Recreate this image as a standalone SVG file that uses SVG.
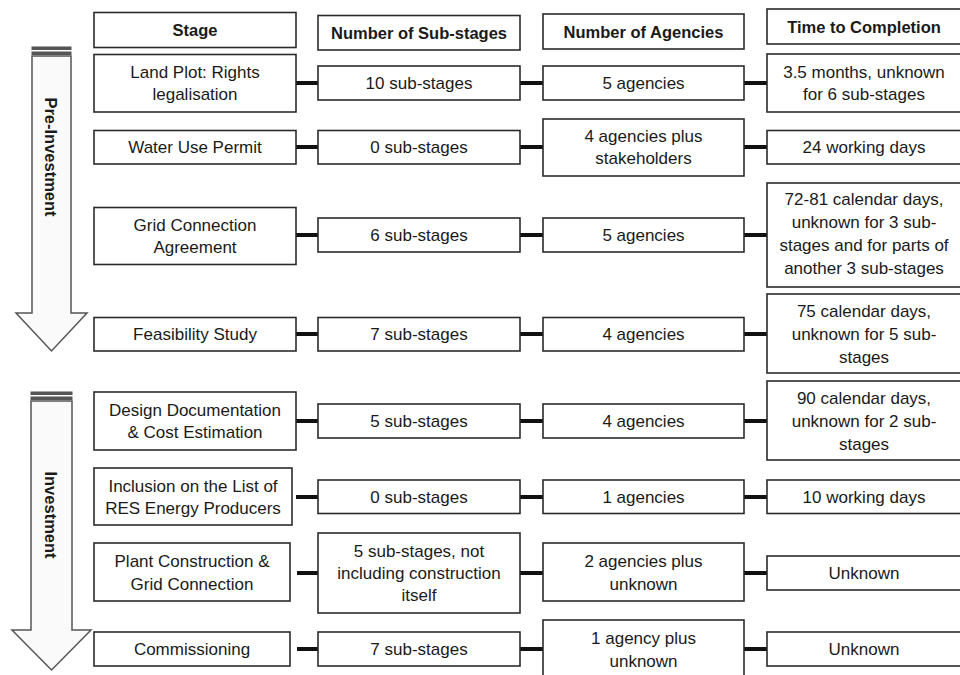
<svg xmlns="http://www.w3.org/2000/svg" width="960" height="675" viewBox="0 0 960 675">
<style>
.bx{fill:#fff;stroke:#2b2b2b;stroke-width:1.6}
.t{font-family:"Liberation Sans",Arial,sans-serif;font-size:17px;fill:#1a1a1a;text-anchor:middle;dominant-baseline:central}
.h{font-family:"Liberation Sans",Arial,sans-serif;font-size:16.5px;font-weight:bold;fill:#1a1a1a;text-anchor:middle;dominant-baseline:central}
.ar{fill:#fafafa;stroke:#555;stroke-width:1.5;stroke-linejoin:miter}
.st{fill:#555;stroke:#555;stroke-width:1}
.c line{stroke:#111;stroke-width:4}
</style>
<rect width="960" height="675" fill="#fff"/>

<g id="arrow-pre">
<rect class="st" x="32" y="47" width="39" height="2.5"/>
<rect class="st" x="32" y="52" width="39" height="2.5"/>
<path class="ar" d="M32,56 L71,56 L71,313 L87,313 L51.5,351 L16,313 L32,313 Z"/>
<text class="h" transform="translate(51,157) rotate(90)">Pre-Investment</text>
</g>
<g id="arrow-inv">
<rect class="st" x="31" y="392" width="41" height="2.5"/>
<rect class="st" x="31" y="397" width="41" height="2.5"/>
<path class="ar" d="M31,401 L72,401 L72,630 L91,630 L51.5,670 L12,630 L31,630 Z"/>
<text class="h" transform="translate(51,515) rotate(90)">Investment</text>
</g>

<g class="c" id="connectors">
<line x1="296" y1="83" x2="318" y2="83"/><line x1="520" y1="83" x2="543" y2="83"/><line x1="744" y1="83" x2="767" y2="83"/>
<line x1="296" y1="147" x2="318" y2="147"/><line x1="520" y1="147" x2="543" y2="147"/><line x1="744" y1="147" x2="767" y2="147"/>
<line x1="296" y1="235" x2="318" y2="235"/><line x1="520" y1="235" x2="543" y2="235"/><line x1="744" y1="235" x2="767" y2="235"/>
<line x1="296" y1="334" x2="318" y2="334"/><line x1="520" y1="334" x2="543" y2="334"/><line x1="744" y1="334" x2="767" y2="334"/>
<line x1="296" y1="421" x2="318" y2="421"/><line x1="520" y1="421" x2="543" y2="421"/><line x1="744" y1="421" x2="767" y2="421"/>
<line x1="296" y1="497" x2="318" y2="497"/><line x1="520" y1="497" x2="543" y2="497"/><line x1="744" y1="497" x2="767" y2="497"/>
<line x1="297" y1="573" x2="318" y2="573"/><line x1="520" y1="573" x2="543" y2="573"/><line x1="744" y1="573" x2="767" y2="573"/>
<line x1="297" y1="649" x2="318" y2="649"/><line x1="520" y1="649" x2="543" y2="649"/><line x1="744" y1="649" x2="767" y2="649"/>
</g>

<g id="h-stage"><rect class="bx" x="94" y="12.5" width="202" height="35"/><text class="h" x="195" y="30">Stage</text></g>
<g id="h-sub"><rect class="bx" x="318" y="15.5" width="202" height="34.5"/><text class="h" x="419" y="32.5">Number of Sub-stages</text></g>
<g id="h-ag"><rect class="bx" x="543" y="14" width="201" height="35"/><text class="h" x="643.5" y="31.5">Number of Agencies</text></g>
<g id="h-time"><rect class="bx" x="767" y="9" width="200" height="35"/><text class="h" x="864" y="26.5">Time to Completion</text></g>

<g id="r1-stage"><rect class="bx" x="94" y="54.5" width="202" height="57.5"/><text class="t" x="195" y="72">Land Plot: Rights</text><text class="t" x="195" y="94">legalisation</text></g>
<g id="r1-sub"><rect class="bx" x="318" y="66" width="202" height="34"/><text class="t" x="419" y="83">10 sub-stages</text></g>
<g id="r1-ag"><rect class="bx" x="543" y="66" width="201" height="34"/><text class="t" x="643.5" y="83">5 agencies</text></g>
<g id="r1-time"><rect class="bx" x="767" y="54" width="200" height="58"/><text class="t" x="864" y="72">3.5 months, unknown</text><text class="t" x="864" y="94">for 6 sub-stages</text></g>

<g id="r2-stage"><rect class="bx" x="94" y="130.5" width="202" height="33.5"/><text class="t" x="195" y="147">Water Use Permit</text></g>
<g id="r2-sub"><rect class="bx" x="318" y="130.5" width="202" height="33.5"/><text class="t" x="419" y="147">0 sub-stages</text></g>
<g id="r2-ag"><rect class="bx" x="543" y="119" width="201" height="57"/><text class="t" x="643.5" y="136">4 agencies plus</text><text class="t" x="643.5" y="158">stakeholders</text></g>
<g id="r2-time"><rect class="bx" x="767" y="130.5" width="200" height="33.5"/><text class="t" x="864" y="147">24 working days</text></g>

<g id="r3-stage"><rect class="bx" x="94" y="207.5" width="202" height="57"/><text class="t" x="195" y="225">Grid Connection</text><text class="t" x="195" y="247">Agreement</text></g>
<g id="r3-sub"><rect class="bx" x="318" y="218" width="202" height="34"/><text class="t" x="419" y="235">6 sub-stages</text></g>
<g id="r3-ag"><rect class="bx" x="543" y="218" width="201" height="34"/><text class="t" x="643.5" y="235">5 agencies</text></g>
<g id="r3-time"><rect class="bx" x="767" y="183" width="200" height="104"/><text class="t" x="864" y="199">72-81 calendar days,</text><text class="t" x="864" y="222">unknown for 3 sub-</text><text class="t" x="864" y="245">stages and for parts of</text><text class="t" x="864" y="268">another 3 sub-stages</text></g>

<g id="r4-stage"><rect class="bx" x="94" y="317.5" width="202" height="33.5"/><text class="t" x="195" y="334">Feasibility Study</text></g>
<g id="r4-sub"><rect class="bx" x="318" y="317.5" width="202" height="33.5"/><text class="t" x="419" y="334">7 sub-stages</text></g>
<g id="r4-ag"><rect class="bx" x="543" y="317.5" width="201" height="33.5"/><text class="t" x="643.5" y="334">4 agencies</text></g>
<g id="r4-time"><rect class="bx" x="767" y="294" width="200" height="79"/><text class="t" x="864" y="311">75 calendar days,</text><text class="t" x="864" y="334">unknown for 5 sub-</text><text class="t" x="864" y="357">stages</text></g>

<g id="r5-stage"><rect class="bx" x="94" y="392" width="202" height="58"/><text class="t" x="195" y="410">Design Documentation</text><text class="t" x="195" y="432">&amp; Cost Estimation</text></g>
<g id="r5-sub"><rect class="bx" x="318" y="404" width="202" height="34"/><text class="t" x="419" y="421">5 sub-stages</text></g>
<g id="r5-ag"><rect class="bx" x="543" y="404" width="201" height="34"/><text class="t" x="643.5" y="421">4 agencies</text></g>
<g id="r5-time"><rect class="bx" x="767" y="381" width="200" height="79"/><text class="t" x="864" y="398">90 calendar days,</text><text class="t" x="864" y="421">unknown for 2 sub-</text><text class="t" x="864" y="444">stages</text></g>

<g id="r6-stage"><rect class="bx" x="94" y="468" width="198" height="57"/><text class="t" x="193" y="486">Inclusion on the List of</text><text class="t" x="193" y="508">RES Energy Producers</text></g>
<g id="r6-sub"><rect class="bx" x="318" y="480" width="202" height="33.5"/><text class="t" x="419" y="497">0 sub-stages</text></g>
<g id="r6-ag"><rect class="bx" x="543" y="480" width="201" height="33.5"/><text class="t" x="643.5" y="497">1 agencies</text></g>
<g id="r6-time"><rect class="bx" x="767" y="480" width="200" height="33.5"/><text class="t" x="864" y="497">10 working days</text></g>

<g id="r7-stage"><rect class="bx" x="94" y="543" width="196" height="58"/><text class="t" x="192" y="561">Plant Construction &amp;</text><text class="t" x="192" y="584">Grid Connection</text></g>
<g id="r7-sub"><rect class="bx" x="318" y="533" width="202" height="80"/><text class="t" x="419" y="551">5 sub-stages, not</text><text class="t" x="419" y="573">including construction</text><text class="t" x="419" y="595">itself</text></g>
<g id="r7-ag"><rect class="bx" x="543" y="543" width="201" height="58"/><text class="t" x="643.5" y="561">2 agencies plus</text><text class="t" x="643.5" y="584">unknown</text></g>
<g id="r7-time"><rect class="bx" x="767" y="556" width="200" height="34"/><text class="t" x="864" y="573">Unknown</text></g>

<g id="r8-stage"><rect class="bx" x="94" y="632" width="196" height="34"/><text class="t" x="192" y="649">Commissioning</text></g>
<g id="r8-sub"><rect class="bx" x="318" y="632" width="202" height="34"/><text class="t" x="419" y="649">7 sub-stages</text></g>
<g id="r8-ag"><rect class="bx" x="543" y="620" width="201" height="60"/><text class="t" x="643.5" y="638">1 agency plus</text><text class="t" x="643.5" y="661">unknown</text></g>
<g id="r8-time"><rect class="bx" x="767" y="632" width="200" height="34"/><text class="t" x="864" y="649">Unknown</text></g>
</svg>
